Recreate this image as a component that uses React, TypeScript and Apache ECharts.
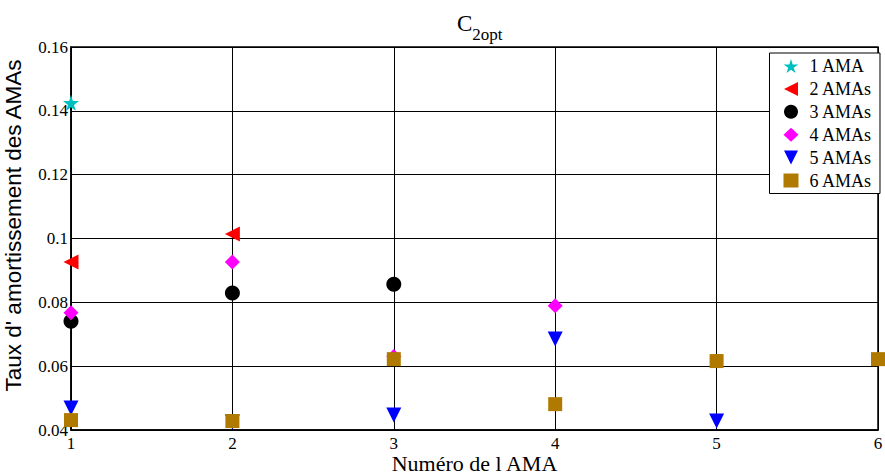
import React, { useEffect, useRef } from "react";
import * as echarts from "echarts";

const xTicks = [1, 2, 3, 4, 5, 6];
const seriesNames = ["1 AMA", "2 AMAs", "3 AMAs", "4 AMAs", "5 AMAs", "6 AMAs"];
const ama1 = [0.1425];
const ama2 = [0.0926, 0.1014];
const ama3 = [0.0741, 0.0829, 0.0857];
const ama4 = [0.0767, 0.0926, 0.063, 0.0789];
const ama5 = [0.0469, 0.0425, 0.0447, 0.0685, 0.0428];
const ama6 = [0.0431, 0.0428, 0.0622, 0.0481, 0.0616, 0.0622];
const allValues = [ama1, ama2, ama3, ama4, ama5, ama6];

const colors = ["#00BFBF", "#FF0000", "#000000", "#FF00FF", "#0000FF", "#B07A00"];
const symbols = [
  "path://M50,0 L61,35 L98,35 L68,57 L79,91 L50,70 L21,91 L32,57 L2,35 L39,35 Z",
  "path://M0,50 L100,0 L100,100 Z",
  "circle",
  "diamond",
  "path://M0,0 L100,0 L50,100 Z",
  "rect",
];
const sizes = [16, 15, 15, 15, 15, 14];

export default function App() {
  const ref = useRef<HTMLDivElement>(null);
  useEffect(() => {
    const chart = echarts.init(ref.current!, null, { renderer: "svg" });
    const serif = "Liberation Serif";
    chart.setOption({
      animation: false,
      backgroundColor: "#fff",
      title: {
        text: "{c|C}{s|2opt}",
        left: 452,
        top: 6,
        textStyle: {
          fontWeight: "normal",
          rich: {
            c: { fontFamily: serif, fontSize: 23, fontWeight: "normal", color: "#000", verticalAlign: "bottom", lineHeight: 24 },
            s: { fontFamily: serif, fontSize: 17, fontWeight: "normal", color: "#000", verticalAlign: "bottom", lineHeight: 16, padding: [0, 0, -8, 0] },
          },
        },
      },
      legend: {
        orient: "vertical",
        right: 5,
        top: 53,
        itemWidth: 15,
        itemHeight: 14,
        itemGap: 4.9,
        padding: [4, 8, 4, 14],
        borderColor: "#000",
        borderWidth: 1,
        backgroundColor: "#fff",
        textStyle: { fontFamily: serif, fontSize: 18, color: "#000", padding: [0, 0, 0, 6] },
        data: seriesNames.map((n, i) => ({ name: n, icon: symbols[i] })),
      },
      grid: {
        left: 71,
        right: 7,
        top: 47,
        bottom: 45,
        show: true,
        borderColor: "#000",
        borderWidth: 1.5,
        outerBoundsMode: "none",
        containLabel: false,
      },
      xAxis: {
        type: "value",
        min: 1,
        max: 6,
        interval: 1,
        name: "Numéro de l AMA",
        nameLocation: "middle",
        nameGap: 23,
        nameMoveOverlap: false,
        nameTextStyle: { fontFamily: serif, fontSize: 22, lineHeight: 20, color: "#000" },
        axisLine: { show: true, onZero: false, lineStyle: { color: "#000", width: 1.5 } },
        axisTick: { show: true, inside: true, length: 5, lineStyle: { color: "#000" } },
        axisLabel: {
          fontFamily: serif,
          fontSize: 17,
          lineHeight: 13,
          color: "#000",
          margin: 7,
          formatter: (v: number) => (xTicks.includes(v) ? String(v) : ""),
        },
        splitLine: { show: true, lineStyle: { color: "#000", width: 1 } },
      },
      yAxis: {
        type: "value",
        min: 0.04,
        max: 0.16,
        interval: 0.02,
        name: "Taux d' amortissement des AMAs",
        nameLocation: "middle",
        nameGap: 46,
        nameMoveOverlap: false,
        nameTextStyle: { fontFamily: "Liberation Sans", fontSize: 22.5, color: "#000", padding: [0, 0, 0, 26] },
        axisLine: { show: true, lineStyle: { color: "#000", width: 1.5 } },
        axisTick: { show: true, inside: true, length: 5, lineStyle: { color: "#000" } },
        axisLabel: {
          fontFamily: serif,
          fontSize: 17,
          color: "#000",
          margin: 3,
          formatter: (v: number) => String(Math.round(v * 100) / 100),
        },
        splitLine: { show: true, lineStyle: { color: "#000", width: 1 } },
      },
      series: allValues.map((vals, i) => ({
        name: seriesNames[i],
        type: "scatter",
        symbol: symbols[i],
        symbolSize: sizes[i],
        clip: false,
        itemStyle: { color: colors[i], opacity: 1 },
        data: vals.map((v, j) => [xTicks[j], v]),
        z: 2 + i,
      })),
    });
    return () => chart.dispose();
  }, []);
  return <div ref={ref} style={{ width: 885, height: 475, position: "absolute", left: 0, top: 0 }} />;
}
